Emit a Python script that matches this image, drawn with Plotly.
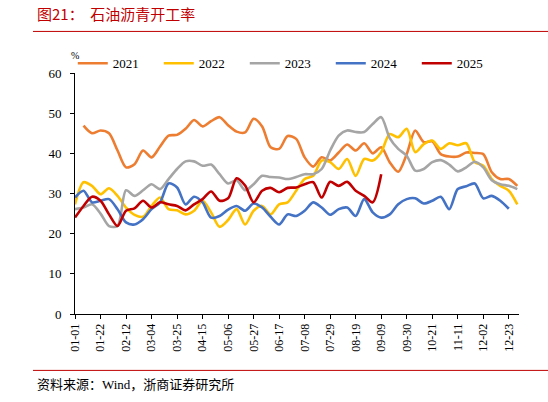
import plotly.graph_objects as go

# weekly categories (shared axis, MM-DD)
dates = ["01-01", "01-08", "01-15", "01-22", "01-29", "02-05", "02-12", "02-19", "02-26",
         "03-04", "03-11", "03-18", "03-25", "04-01", "04-08", "04-15", "04-22", "04-29",
         "05-06", "05-13", "05-20", "05-27", "06-03", "06-10", "06-17", "06-24", "07-01",
         "07-08", "07-15", "07-22", "07-29", "08-05", "08-12", "08-19", "08-26", "09-02",
         "09-09", "09-16", "09-23", "09-30", "10-07", "10-14", "10-21", "10-28", "11-04",
         "11-11", "11-18", "11-25", "12-02", "12-09", "12-16", "12-23", "12-30"]
tick_labels = dates[::3]

y2021 = [None, 46.9, 45.0, 45.7, 45.0, 40.7, 36.5, 37.3, 40.7, 39.0, 41.7, 44.4, 44.6, 46.1,
         48.3, 46.7, 48.0, 49.0, 47.0, 45.4, 45.2, 48.6, 46.7, 41.5, 41.1, 44.3, 43.6, 39.0,
         36.7, 39.0, 38.2, 40.2, 42.2, 40.7, 42.5, 40.0, 41.5, 37.8, 35.4, 39.8, 45.7, 42.8,
         43.0, 39.8, 39.2, 39.2, 40.2, 40.1, 39.8, 35.3, 33.6, 33.6, 31.9]
y2022 = [27.3, 32.8, 31.9, 29.8, 31.3, 29.4, 26.5, 24.7, 24.2, 26.9, 29.0, 26.1, 25.8, 24.8,
         25.7, 28.2, 25.3, 21.7, 23.4, 26.1, 22.3, 25.7, 26.9, 24.8, 27.3, 27.8, 30.7, 33.6,
         34.4, 38.2, 37.8, 36.1, 38.6, 34.4, 38.6, 38.2, 40.3, 44.8, 44.0, 46.1, 40.3, 42.3,
         43.2, 41.1, 42.5, 42.0, 42.5, 37.8, 36.9, 33.6, 31.9, 30.7, 27.3]
y2023 = [26.1, 26.5, 27.3, 25.0, 21.9, 21.9, 30.8, 29.4, 30.8, 32.3, 31.1, 33.6, 36.1, 38.0,
         38.0, 36.9, 37.2, 34.8, 32.5, 33.3, 30.8, 32.3, 34.4, 34.1, 34.0, 33.6, 34.1, 34.8,
         34.8, 36.1, 40.7, 44.4, 45.7, 45.3, 45.3, 47.3, 49.0, 43.8, 41.1, 39.4, 35.7, 36.1,
         37.8, 38.3, 37.2, 35.5, 36.5, 37.9, 36.5, 33.3, 32.3, 31.9, 31.1]
y2024 = [29.0, 30.7, 27.8, 28.2, 28.6, 26.1, 22.8, 22.3, 23.6, 26.1, 27.8, 32.5, 31.5, 27.3,
         29.2, 27.8, 24.0, 24.4, 26.0, 26.9, 25.7, 27.5, 26.5, 24.2, 22.3, 24.8, 24.4, 25.7,
         27.8, 26.5, 24.7, 26.1, 26.5, 24.4, 28.6, 25.3, 24.0, 24.8, 27.3, 28.6, 28.8, 27.5,
         28.2, 29.2, 26.1, 31.1, 31.8, 32.5, 28.8, 29.4, 28.2, 26.2, None]
y2025 = [24.0, 26.9, 29.2, 28.2, 24.8, 21.9, 25.7, 26.3, 28.2, 26.5, 27.8, 27.3, 26.9, 25.8,
         27.3, 28.6, 30.5, 28.2, 28.8, 33.8, 32.0, 27.8, 30.7, 31.4, 30.3, 31.4, 31.5, 32.3,
         32.8, 29.0, 32.9, 31.9, 32.9, 30.7, 29.4, 27.8, 34.8] + [None] * 16

series = [("2021", y2021, "#ED7D31"),
          ("2022", y2022, "#FFC000"),
          ("2023", y2023, "#A5A5A5"),
          ("2024", y2024, "#4472C4"),
          ("2025", y2025, "#C00000")]

serif = "Liberation Serif, Noto Sans CJK SC"

fig = go.Figure()
for name, vals, col in series:
    fig.add_trace(go.Scatter(x=dates, y=vals, name=name, mode="lines",
                             line=dict(color=col, width=2.6, shape="spline", smoothing=0.8)))

fig.update_layout(
    width=548, height=402,
    margin=dict(l=75, r=29, t=73.3, b=87.5),
    plot_bgcolor="white", paper_bgcolor="white",
    font=dict(family=serif, size=12, color="black"),
    showlegend=True,
    legend=dict(orientation="h", x=-0.005, xanchor="left", y=1.04, yanchor="middle",
                entrywidth=41, entrywidthmode="pixels", bgcolor="rgba(0,0,0,0)",
                font=dict(family=serif, size=13)),
)

fig.update_xaxes(type="category", range=[0, 52.2], showline=True, linecolor="black",
                 linewidth=1, ticks="outside", ticklen=4, tickcolor="black",
                 tickvals=tick_labels, tickangle=-90, showgrid=False, zeroline=False,
                 tickfont=dict(family=serif, size=12))
fig.update_yaxes(range=[0, 60], dtick=10, showline=True, linecolor="black", linewidth=1,
                 ticks="outside", ticklen=4, tickcolor="black", showgrid=False,
                 zeroline=False, ticklabelstandoff=6, tickfont=dict(family=serif, size=13))

# header / footer
fig.add_annotation(text="图21：  石油沥青开工率", xref="paper", yref="paper",
                   x=-0.09, y=1.246, xanchor="left", yanchor="middle", showarrow=False,
                   font=dict(family="Noto Sans CJK SC", size=15, color="#C00000"))
fig.add_annotation(text="%", xref="paper", yref="paper", x=0.0, y=1.072,
                   xanchor="center", yanchor="middle", showarrow=False,
                   font=dict(family=serif, size=10))
fig.add_annotation(text="资料来源：Wind，浙商证券研究所", xref="paper", yref="paper",
                   x=-0.09, y=-0.2935, xanchor="left", yanchor="middle", showarrow=False,
                   font=dict(family="Liberation Serif, Noto Sans CJK SC", size=13))
for yy in [1.1725, -0.234]:
    fig.add_shape(type="line", xref="paper", yref="paper", x0=-0.0946, x1=1.07,
                  y0=yy, y1=yy, line=dict(color="#C00000", width=1))

# drop the default 8px page margin so the figure sits at the window corner
fig.write_html("out.html", config={"displayModeBar": False},
               post_script="document.body.style.margin = '0';")
